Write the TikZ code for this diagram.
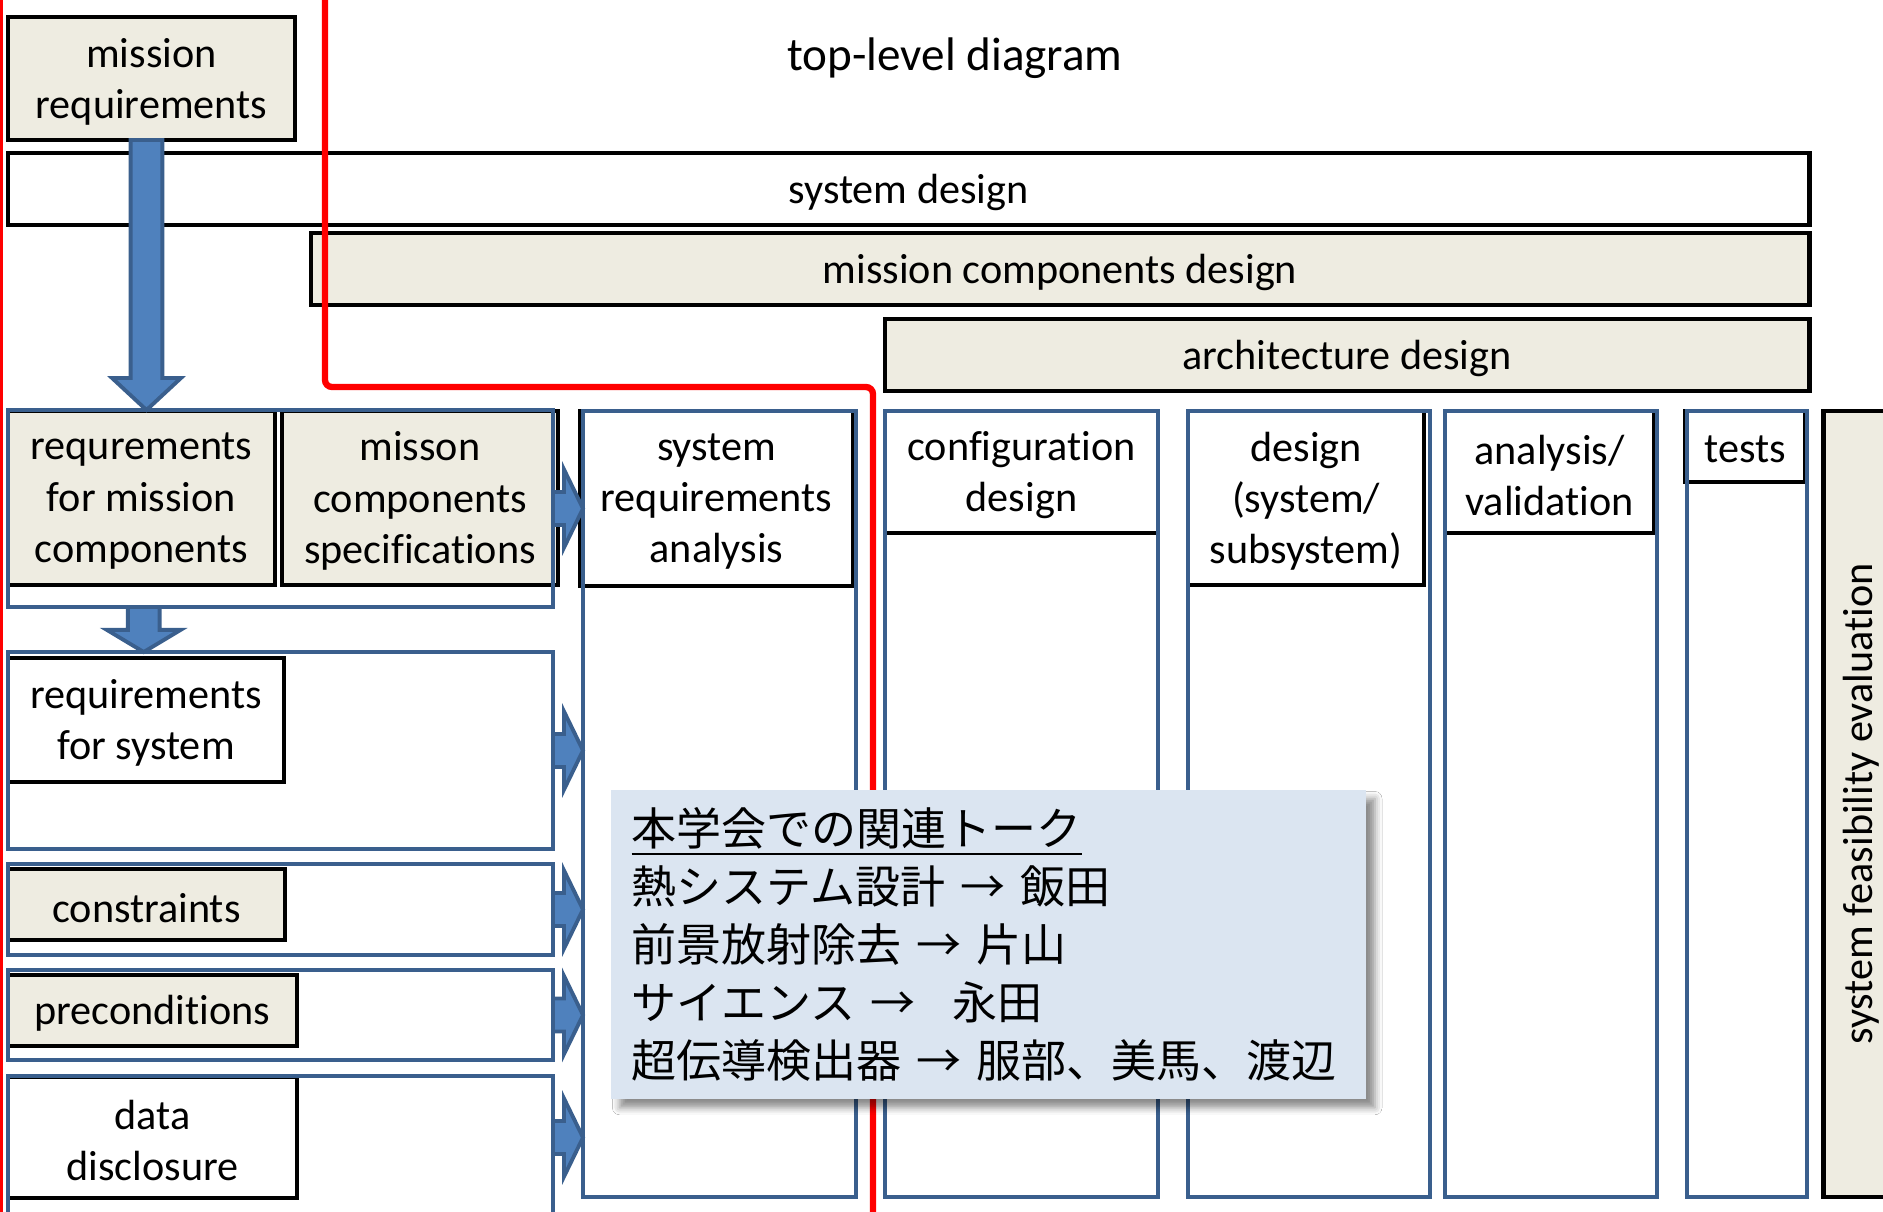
\documentclass[tikz,border=0pt]{standalone}
\usepackage{fontspec}
\setmainfont{Carlito}[Ligatures=NoCommon]
\newfontfamily\jpfont{Noto Sans CJK JP}
\usetikzlibrary{fit,calc,shadows.blur}

\definecolor{tanbg}{HTML}{EEECE1}
\definecolor{blueline}{HTML}{3A5F8D}
\definecolor{bluefill}{HTML}{4F81BD}
\definecolor{talkbg}{HTML}{DBE5F1}

\tikzset{
    tanbox/.style={draw=black,fill=tanbg,line width=1.4pt,inner sep=0pt,
        outer sep=0pt},
    whitebox/.style={draw=black,fill=white,line width=1.4pt,inner sep=0pt,
        outer sep=0pt},
    boxtext/.style={label={[align=center,yshift=-0.9pt]center:#1}},
    bluebox/.style={draw=blueline,fill=white,line width=1.3pt,inner sep=0pt,
        outer sep=0pt},
    bluearrow/.style={draw=blueline,fill=bluefill,line width=1.1pt},
    redpath/.style={draw=red,line width=1.8pt},
    talkbox/.style={fill=talkbg,blur shadow={shadow xshift=2.5pt,
        shadow yshift=-2.5pt,shadow blur radius=2pt,shadow opacity=45},
        minimum width=7.55cm,minimum height=3.09cm,text width=7.13cm,
        inner xsep=0.21cm,align=left,
        font=\jpfont\fontsize{12.8}{16.5}\selectfont}
}

\begin{document}
\begin{tikzpicture}[x=0.01cm,y=-0.01cm,font=\fontsize{12}{14.6}\selectfont]
    \useasboundingbox (0,0) rectangle (1883,1211);

    % title and the three design bars across the top
    \node (title) at (955,58) {\fontsize{13.4}{16}\selectfont top-level diagram};
    \node[whitebox,fit={(8,153) (1809,225)},boxtext={system design}] (sysdes) {};
    \node[tanbox,fit={(311,233) (1809,305)},
        boxtext={mission components design}] (mcdes) {};
    \node[tanbox,fit={(885,319) (1809,391)},
        boxtext={architecture design}] (archdes) {};
    \node[tanbox,fit={(8,17) (295,140)},
        boxtext={mission\\requirements}] (mreq) {};

    % left column: blue frames holding the requirement boxes
    \node[bluebox,fit={(8,410) (553,607)}] (g1) {};
    \node[bluebox,fit={(8,652) (553,849)}] (g2) {};
    \node[bluebox,fit={(8,864) (553,955)}] (g3) {};
    \node[bluebox,fit={(8,970) (553,1060)}] (g4) {};
    \node[bluebox,fit={(8,1076) (553,1225)}] (g5) {};

    \node[tanbox,fit={(8,411) (275,585)},
        boxtext={requrements\\for mission\\components}] (rmc) {};
    \node[tanbox,fit={(282,411) (558,585)},
        boxtext={misson\\components\\specifications}] (mcs) {};
    \node[whitebox,fit={(8,658) (284,782)},
        boxtext={requirements\\for system}] (rfs) {};
    \node[tanbox,fit={(8,869) (285,940)},boxtext={constraints}] (cons) {};
    \node[tanbox,fit={(8,975) (297,1046)},boxtext={preconditions}] (precon) {};
    \node[whitebox,fit={(8,1077) (297,1198)},
        boxtext={data\\disclosure}] (dd) {};

    \foreach \g in {g1,g2,g3,g4,g5}
        \draw[bluebox,fill=none] (\g.north west) rectangle (\g.south east);

    % activity columns with their headers
    \node[bluebox,fit={(583,411) (856,1197)}] (sra) {};
    \node[bluebox,fit={(885,411) (1158,1197)}] (cfg) {};
    \node[bluebox,fit={(1188,411) (1430,1197)}] (dsg) {};
    \node[bluebox,fit={(1445,411) (1657,1197)}] (ana) {};
    \node[bluebox,fit={(1687,411) (1807,1197)}] (tst) {};

    \node[whitebox,fit={(580,411) (853,586)},
        boxtext={system\\requirements\\analysis}] (srah) {};
    \node[whitebox,fit={(885,411) (1158,533)},
        boxtext={configuration\\design}] (cfgh) {};
    \node[whitebox,fit={(1188,411) (1424,585)},
        boxtext={design\\(system/\\subsystem)}] (dsgh) {};
    \node[whitebox,fit={(1445,411) (1654,533)},
        boxtext={analysis/\\validation}] (anah) {};
    \node[whitebox,fit={(1685,411) (1805,482)},boxtext={tests}] (tsth) {};

    \foreach \c in {sra,cfg,dsg,ana,tst}
        \draw[bluebox,fill=none] (\c.north west) rectangle (\c.south east);

    \node[tanbox,fit={(1823,411) (1899,1197)}] (feas) {};
    \node[rotate=90] (feastxt) at (feas.center) {system feasibility evaluation};

    % block arrows
    \draw[bluearrow] let \p1=($(mreq.south)!.5!(rmc.north)$), \p2=(mreq.south),
        \p3=(g1.north) in
        (\x1-4.5pt,\y2) -- (\x1-4.5pt,\y3+9.1pt) -- (\x1-9.8pt,\y3+9.1pt)
        -- (\x1,\y3) -- (\x1+9.8pt,\y3+9.1pt) -- (\x1+4.5pt,\y3+9.1pt)
        -- (\x1+4.5pt,\y2) -- cycle;
    \draw[bluearrow] let \p1=($(rmc.south)!.5!(rfs.north)$), \p2=(g1.south),
        \p3=(g2.north) in
        (\x1-4.5pt,\y2) -- (\x1-4.5pt,\y3+6.3pt) -- (\x1-10.5pt,\y3+6.3pt)
        -- (\x1,\y3) -- (\x1+10.5pt,\y3+6.3pt) -- (\x1+4.5pt,\y3+6.3pt)
        -- (\x1+4.5pt,\y2) -- cycle;
    \foreach \g/\h in {g1/g1,g2/g2,g3/g3,g4/g4,g5/dd}
        \draw[bluearrow] let \p1=(\g.east |- \h.east), \p2=(sra.west) in
            (\x1,\y1+4.7pt) -- (\x2-5.4pt,\y1+4.7pt) -- (\x2-5.4pt,\y1+11.1pt)
            -- (\x2,\y1) -- (\x2-5.4pt,\y1-11.1pt) -- (\x2-5.4pt,\y1-4.7pt)
            -- (\x1,\y1-4.7pt) -- cycle;

    % red boundary lines
    \draw[redpath,rounded corners=2pt] (325,-5) -- (325,387) -- (873,387)
        -- (873,1220);
    \draw[red,line width=0.9pt] (1.5,-5) -- (1.5,1220);

    % related talks
    \node[talkbox,anchor=north west] (talks) at (610,789)
        {\underline{本学会での関連トーク}\\
         熱システム設計 → 飯田\\
         前景放射除去 → 片山\\
         サイエンス →\hspace{0.5em} 永田\\
         超伝導検出器 → 服部、美馬、渡辺};
\end{tikzpicture}
\end{document}
